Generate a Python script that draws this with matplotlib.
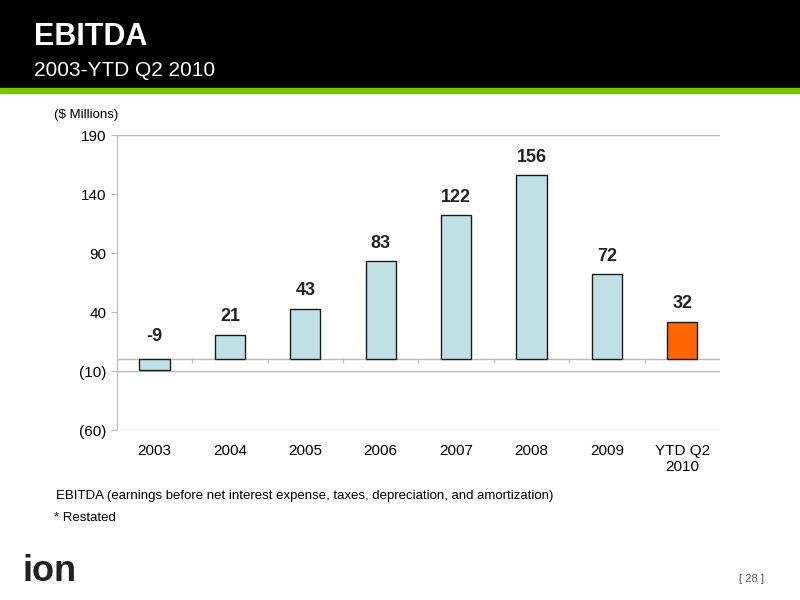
import matplotlib
matplotlib.use("Agg")
import matplotlib.pyplot as plt
from matplotlib.patches import Rectangle

categories = ["2003", "2004", "2005", "2006", "2007", "2008", "2009", "YTD Q2\n2010"]
values = [-9, 21, 43, 83, 122, 156, 72, 32]
labels = ["-9", "21", "43", "83", "122", "156", "72", "32"]
yticks = [-60, -10, 40, 90, 140, 190]
ytick_labels = ["(60)", "(10)", "40", "90", "140", "190"]

plt.rcParams['font.family'] = ['Liberation Sans', 'DejaVu Sans']
fig = plt.figure(figsize=(8, 6), dpi=100)

# header
fig.patches.append(Rectangle((0, 1-88/600), 1, 88/600, transform=fig.transFigure, color='black', zorder=0))
fig.patches.append(Rectangle((0, 1-93/600), 1, 5/600, transform=fig.transFigure, color='#7DC300', zorder=0))
fig.text(0.042, 0.938, "EBITDA", color='white', fontsize=22, fontweight='bold', va='center')
fig.text(0.042, 0.883, "2003-YTD Q2 2010", color='white', fontsize=15, va='center')
fig.text(0.068, 0.808, "($ Millions)", fontsize=9.5, va='center')

ax = fig.add_axes([0.146, 0.283, 0.754, 0.492])
colors = ['#BFE1E4'] * 7 + ['#FF6600']
x = list(range(len(categories)))
ax.bar(x, values, width=0.4, color=colors, edgecolor='#1a1a1a', linewidth=1, zorder=3)
for xi, v, l in zip(x, values, labels):
    ax.text(xi, max(v, 0) + 8 if v >= 0 else 12, l, ha='center', va='bottom', fontsize=13, fontweight='bold', color='#222222')
ax.set_ylim(-60, 190)
ax.set_xlim(-0.5, len(categories) - 0.5)
ax.set_yticks(yticks)
ax.set_yticklabels(ytick_labels, fontsize=11)
ax.set_xticks(x)
ax.set_xticklabels(categories, fontsize=11)
ax.axhline(190, color='#bbbbbb', lw=1, zorder=1)
ax.axhline(-10, color='#bbbbbb', lw=1, zorder=1)
ax.axhline(0, color='#bbbbbb', lw=1, zorder=2)
for xt in [i + 0.5 for i in range(len(categories) - 1)]:
    ax.plot([xt, xt], [0, -2], color='#bbbbbb', lw=1, zorder=2)
for s in ['top', 'right', 'bottom']:
    ax.spines[s].set_visible(False)
ax.spines['left'].set_color('#bbbbbb')
ax.tick_params(axis='y', color='#bbbbbb', length=4)
ax.tick_params(axis='x', length=0, pad=10)
ax.axhline(-60, color='#bbbbbb', lw=1)

fig.text(0.07, 0.173, "EBITDA (earnings before net interest expense, taxes, depreciation, and amortization)", fontsize=9.5, va='center')
fig.text(0.067, 0.137, "* Restated", fontsize=9.5, va='center')
fig.text(0.028, 0.048, "ion", fontsize=26, fontweight='bold', color='#222222', va='center')
fig.text(0.955, 0.035, "[ 28 ]", fontsize=8, color='#555555', ha='right', va='center')

fig.savefig("out.png", dpi=100)
